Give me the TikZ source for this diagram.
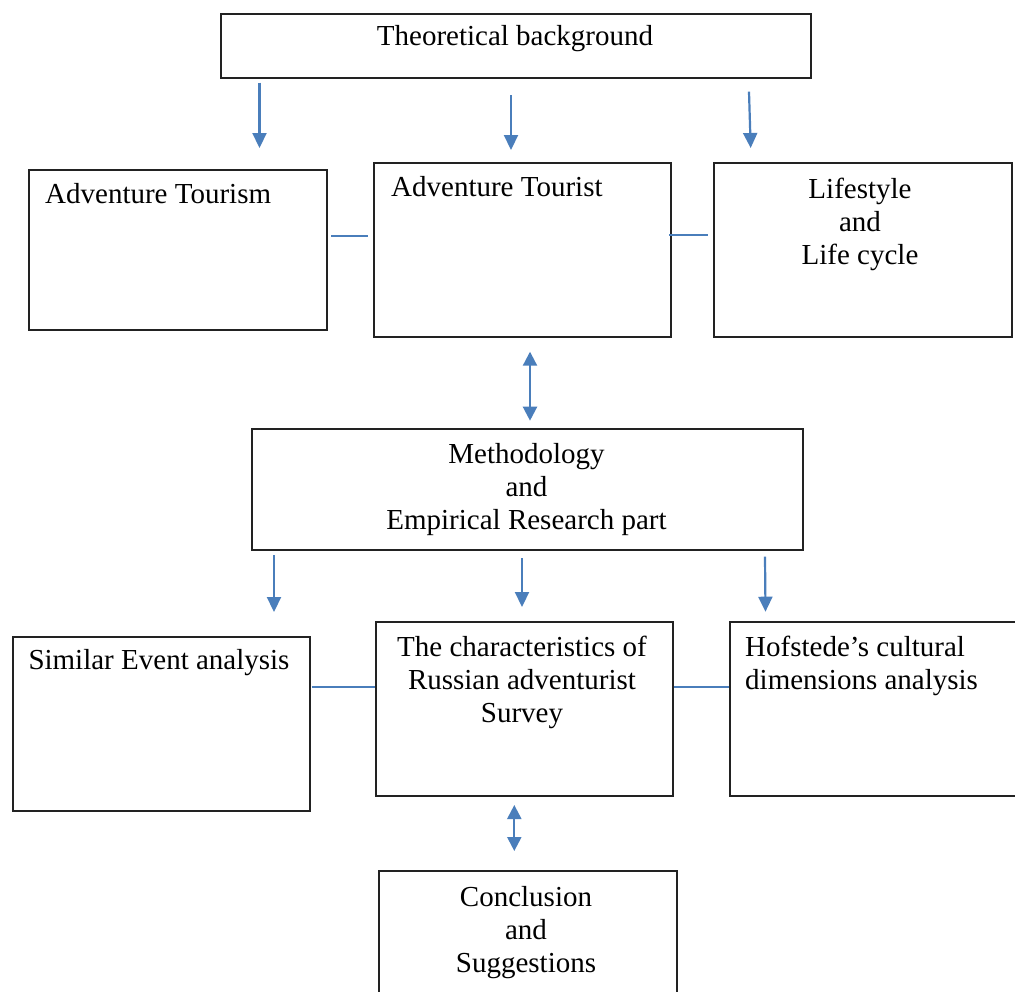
\documentclass[tikz,border=0pt]{standalone}
\usepackage{fontspec}
\setmainfont{Liberation Serif}
\usetikzlibrary{arrows.meta}
\definecolor{arrowblue}{HTML}{4A7EBB}
\definecolor{boxline}{HTML}{222222}
\begin{document}
\begin{tikzpicture}[x=1pt,y=-1pt,
  box/.style={draw=boxline, line width=2pt, inner sep=0pt, anchor=north west},
  lbl/.style={font=\fontsize{29}{33}\selectfont, inner sep=0pt, text=black},
  arr/.style={draw=arrowblue, line width=2.2pt, -{Triangle[width=14pt,length=15pt]}},
  darr/.style={draw=arrowblue, line width=2.2pt, {Triangle[width=14pt,length=14pt]}-{Triangle[width=14pt,length=14pt]}},
  link/.style={draw=arrowblue, line width=2pt}]
\useasboundingbox (0,0) rectangle (1015,991);
\fill[white] (0,0) rectangle (1015,991);

% boxes
\node[box, minimum width=590pt, minimum height=64pt] (tb) at (220,12.7) {};
\node[box, minimum width=298pt, minimum height=159.7pt] (at) at (28,169) {};
\node[box, minimum width=297pt, minimum height=173.7pt] (ati) at (373,162) {};
\node[box, minimum width=297.7pt, minimum height=173.7pt] (ls) at (713,162) {};
\node[box, minimum width=551pt, minimum height=121.3pt] (meth) at (251,428) {};
\node[box, minimum width=297pt, minimum height=174pt] (sim) at (11.7,636) {};
\node[box, minimum width=297pt, minimum height=173.5pt] (chr) at (375,621) {};
\node[box, minimum width=302pt, minimum height=174pt] (hof) at (728.5,621) {};
\node[box, minimum width=297.7pt, minimum height=140pt] (con) at (378,870) {};

% texts
\node[lbl, anchor=base] (tbt) at (515,45) {Theoretical background};
\node[lbl, anchor=base west] (att) at (45,203) {Adventure Tourism};
\node[lbl, anchor=base west] (atit) at (391,196) {Adventure Tourist};
\node[lbl, anchor=north, align=center] (lst) at (860,177.7) {\rule{0pt}{20pt}Lifestyle\\and\\Life cycle};
\node[lbl, anchor=north, align=center] (metht) at (526.5,443.3) {\rule{0pt}{20pt}Methodology\\and\\Empirical Research part};
\node[lbl, anchor=base west] (simt) at (28.3,669.3) {Similar Event analysis};
\node[lbl, anchor=north, align=center] (chrt) at (522,636) {\rule{0pt}{20pt}The characteristics of\\Russian adventurist\\Survey};
\node[lbl, anchor=north west, align=left] (hoft) at (745,636) {\rule{0pt}{20pt}Hofstede’s cultural\\dimensions analysis};
\node[lbl, anchor=north, align=center] (cont) at (526,886) {\rule{0pt}{20pt}Conclusion\\and\\Suggestions};

% arrow end points
\coordinate (a1s) at (259.5,82.7);  \coordinate (a1e) at (259.5,148);
\coordinate (a2s) at (511,95);      \coordinate (a2e) at (511,150);
\coordinate (a3s) at (749,91.7);    \coordinate (a3e) at (750.7,148);
\coordinate (d1s) at (530,351.7);   \coordinate (d1e) at (530,420.7);
\coordinate (b1s) at (274,555);     \coordinate (b1e) at (274,612);
\coordinate (b2s) at (522,558);     \coordinate (b2e) at (522,607);
\coordinate (b3s) at (765,556.7);   \coordinate (b3e) at (765.5,611.7);
\coordinate (d2s) at (514.3,805);   \coordinate (d2e) at (514.3,851);
\coordinate (l1) at (0,235.7);
\coordinate (l2) at (0,235);
\coordinate (l3) at (0,687.3);

\draw[arr] (a1s) -- (a1e);
\draw[arr] (a2s) -- (a2e);
\draw[arr] (a3s) -- (a3e);
\draw[darr] (d1s) -- (d1e);
\draw[arr] (b1s) -- (b1e);
\draw[arr] (b2s) -- (b2e);
\draw[arr] (b3s) -- (b3e);
\draw[darr] (d2s) -- (d2e);

\draw[link] ([xshift=3pt]at.east |- l1) -- ([xshift=-5pt]ati.west |- l1);
\draw[link] ([xshift=-3pt]ati.east |- l2) -- ([xshift=-5pt]ls.west |- l2);
\draw[link] ([xshift=1pt]sim.east |- l3) -- (chr.west |- l3);
\draw[link] (chr.east |- l3) -- (hof.west |- l3);
\end{tikzpicture}
\end{document}
